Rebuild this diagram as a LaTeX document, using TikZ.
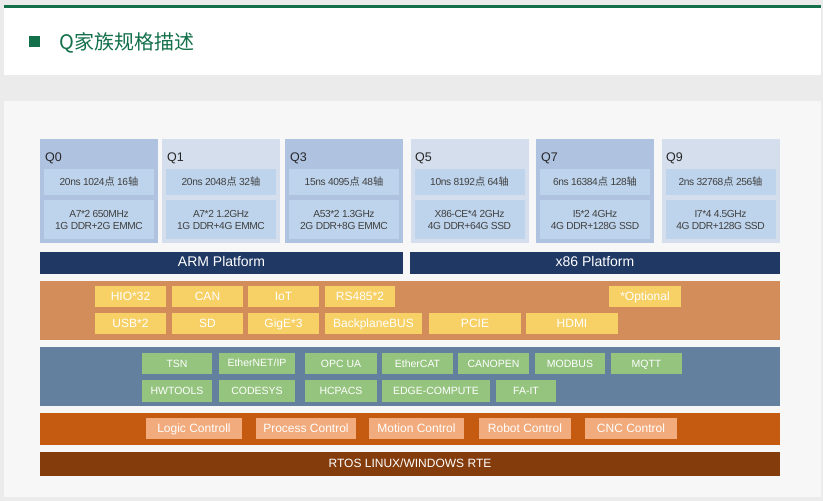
\documentclass[tikz,border=0pt]{standalone}
\usepackage{fontspec}
\setmainfont{Liberation Sans}
\newfontfamily\cjk{Noto Sans CJK SC}
\usepackage{xcolor}
\definecolor{pagegray}{HTML}{EBEBEB}
\definecolor{panelgray}{HTML}{F7F7F7}
\definecolor{titlegreen}{HTML}{13704A}
\definecolor{qdark}{HTML}{AFC3E1}
\definecolor{qlight}{HTML}{D5DEEC}
\definecolor{specblue}{HTML}{BED4EC}
\definecolor{navy}{HTML}{203864}
\definecolor{ioband}{HTML}{D38D5A}
\definecolor{ioyellow}{HTML}{F7D166}
\definecolor{protoband}{HTML}{64809F}
\definecolor{protogreen}{HTML}{95C47F}
\definecolor{ctrlband}{HTML}{C55A11}
\definecolor{ctrlsalmon}{HTML}{F2AB7D}
\definecolor{rtosbrown}{HTML}{843C0C}
\usetikzlibrary{calc}
\tikzset{card/.style={inner sep=0pt,outer sep=0pt,minimum width=118pt,minimum height=104pt},
  card dark/.style={card,fill=qdark},card light/.style={card,fill=qlight},
  card label/.style={anchor=west,inner sep=0pt,font=\fontsize{12.5}{14}\selectfont,text=black!85},
  spec/.style={inner sep=0pt,fill=specblue,minimum width=110pt,text=black!75,align=center,
    font=\fontsize{10.2}{12}\selectfont\addfontfeature{LetterSpace=-4}},
  platform/.style={inner sep=0pt,fill=navy,text=white,minimum height=22pt,text height=0.72em,text depth=0pt,
    font=\fontsize{14}{16}\selectfont},
  band/.style={inner sep=0pt,outer sep=0pt,minimum width=740pt},
  chip/.style={inner sep=0pt,text=white,minimum height=21pt,text height=0.72em,text depth=0pt},
  io box/.style={chip,fill=ioyellow,font=\fontsize{12}{14}\selectfont},
  proto box/.style={chip,fill=protogreen,font=\fontsize{10.5}{12}\selectfont},
  ctrl box/.style={chip,fill=ctrlsalmon,font=\fontsize{12}{14}\selectfont}}

\begin{document}
\begin{tikzpicture}[x=1pt,y=-1pt]
	\fill[pagegray] (0,0) rectangle (823,501);
	\useasboundingbox (0,0) rectangle (823,501);
	% header
	\fill[white] (4,5) rectangle (821,75);
	\fill[titlegreen] (4,5) rectangle (821,8);
	\fill[titlegreen] (29,36) rectangle (40,47);
	\node[anchor=west,inner sep=0pt,text=titlegreen,font=\cjk\fontsize{20}{22}\selectfont] (title) at (59,43) {Q家族规格描述};
	\fill[panelgray] (4,101) rectangle (821,497);
	% family cards
	\node[card dark] (q0) at (99,191) {};
	\node[card light] (q1) at (221,191) {};
	\node[card dark] (q3) at (344,191) {};
	\node[card light] (q5) at (469.5,191) {};
	\node[card dark] (q7) at (595,191) {};
	\node[card light] (q9) at (720.5,191) {};
	\node[card label] (q0 name) at (45,158) {Q0};
	\node[card label] (q1 name) at (167,158) {Q1};
	\node[card label] (q3 name) at (290,158) {Q3};
	\node[card label] (q5 name) at (415,158) {Q5};
	\node[card label] (q7 name) at (541,158) {Q7};
	\node[card label] (q9 name) at (666,158) {Q9};
	\node[spec,minimum height=26pt] (q0 perf) at (99,182) {20ns 1024{\cjk 点} 16{\cjk 轴}};
	\node[spec,minimum height=26pt] (q1 perf) at (221,182) {20ns 2048{\cjk 点} 32{\cjk 轴}};
	\node[spec,minimum height=26pt] (q3 perf) at (344,182) {15ns 4095{\cjk 点} 48{\cjk 轴}};
	\node[spec,minimum height=26pt] (q5 perf) at (469.5,182) {10ns 8192{\cjk 点} 64{\cjk 轴}};
	\node[spec,minimum height=26pt] (q7 perf) at (595,182) {6ns 16384{\cjk 点} 128{\cjk 轴}};
	\node[spec,minimum height=26pt] (q9 perf) at (720.5,182) {2ns 32768{\cjk 点} 256{\cjk 轴}};
	\node[spec,minimum height=39pt] (q0 hw) at (99,219.5) {A7*2 650MHz\\1G DDR+2G EMMC};
	\node[spec,minimum height=39pt] (q1 hw) at (221,219.5) {A7*2 1.2GHz\\1G DDR+4G EMMC};
	\node[spec,minimum height=39pt] (q3 hw) at (344,219.5) {A53*2 1.3GHz\\2G DDR+8G EMMC};
	\node[spec,minimum height=39pt] (q5 hw) at (469.5,219.5) {X86-CE*4 2GHz\\4G DDR+64G SSD};
	\node[spec,minimum height=39pt] (q7 hw) at (595,219.5) {I5*2 4GHz\\4G DDR+128G SSD};
	\node[spec,minimum height=39pt] (q9 hw) at (720.5,219.5) {I7*4 4.5GHz\\4G DDR+128G SSD};
	% platforms
	\node[platform,minimum width=363pt] (arm) at (221.5,263) {ARM Platform};
	\node[platform,minimum width=370pt] (x86) at (595,263) {x86 Platform};
	% interfaces
	\node[band,fill=ioband,minimum height=59pt] (io) at (410,310.5) {};
	\node[io box,minimum width=71pt] (hio) at (130.5,296.5) {HIO*32};
	\node[io box,minimum width=71pt] (can) at (207.5,296.5) {CAN};
	\node[io box,minimum width=71pt] (iot) at (283.5,296.5) {IoT};
	\node[io box,minimum width=70pt] (rs485) at (360,296.5) {RS485*2};
	\node[io box,minimum width=72pt] (optional) at (645,296.5) {*Optional};
	\node[io box,minimum width=71pt] (usb) at (130.5,323.5) {USB*2};
	\node[io box,minimum width=71pt] (sd) at (207.5,323.5) {SD};
	\node[io box,minimum width=71pt] (gige) at (283.5,323.5) {GigE*3};
	\node[io box,minimum width=97pt] (backplane) at (373.5,323.5) {BackplaneBUS};
	\node[io box,minimum width=92pt] (pcie) at (475,323.5) {PCIE};
	\node[io box,minimum width=92pt] (hdmi) at (572,323.5) {HDMI};
	% protocols
	\node[band,fill=protoband,minimum height=59pt] (proto) at (410,376.5) {};
	\node[proto box,minimum width=70pt] (tsn) at (177,363.5) {TSN};
	\node[proto box,minimum width=76pt] (enip) at (257,363) {EtherNET/IP};
	\node[proto box,minimum width=72pt] (opcua) at (341,363.5) {OPC UA};
	\node[proto box,minimum width=71pt] (ecat) at (417.5,363.5) {EtherCAT};
	\node[proto box,minimum width=71pt] (canopen) at (493.5,363.5) {CANOPEN};
	\node[proto box,minimum width=70pt] (modbus) at (570,363.5) {MODBUS};
	\node[proto box,minimum width=71pt] (mqtt) at (646.5,363.5) {MQTT};
	\node[proto box,minimum width=70pt,minimum height=22pt] (hwtools) at (177,391) {HWTOOLS};
	\node[proto box,minimum width=76pt,minimum height=22pt] (codesys) at (257,391) {CODESYS};
	\node[proto box,minimum width=72pt,minimum height=22pt] (hcpacs) at (341,391) {HCPACS};
	\node[proto box,minimum width=108pt,minimum height=22pt] (edge) at (436,391) {EDGE-COMPUTE};
	\node[proto box,minimum width=60pt,minimum height=22pt] (fait) at (526,391) {FA-IT};
	% control
	\node[band,fill=ctrlband,minimum height=32pt] (ctrl) at (410,429) {};
	\node[ctrl box,minimum width=96pt] (logic) at (194,428.5) {Logic Controll};
	\node[ctrl box,minimum width=100pt] (process) at (306,428.5) {Process Control};
	\node[ctrl box,minimum width=95pt] (motion) at (416.5,428.5) {Motion Control};
	\node[ctrl box,minimum width=92pt] (robot) at (525,428.5) {Robot Control};
	\node[ctrl box,minimum width=92pt] (cnc) at (631,428.5) {CNC Control};
	% runtime
	\node[band,fill=rtosbrown,minimum height=24pt,text=white,text height=0.72em,text depth=0pt,
	  font=\fontsize{12}{14}\selectfont] (rtos) at (410,464) {RTOS LINUX/WINDOWS RTE};
\end{tikzpicture}
\end{document}
